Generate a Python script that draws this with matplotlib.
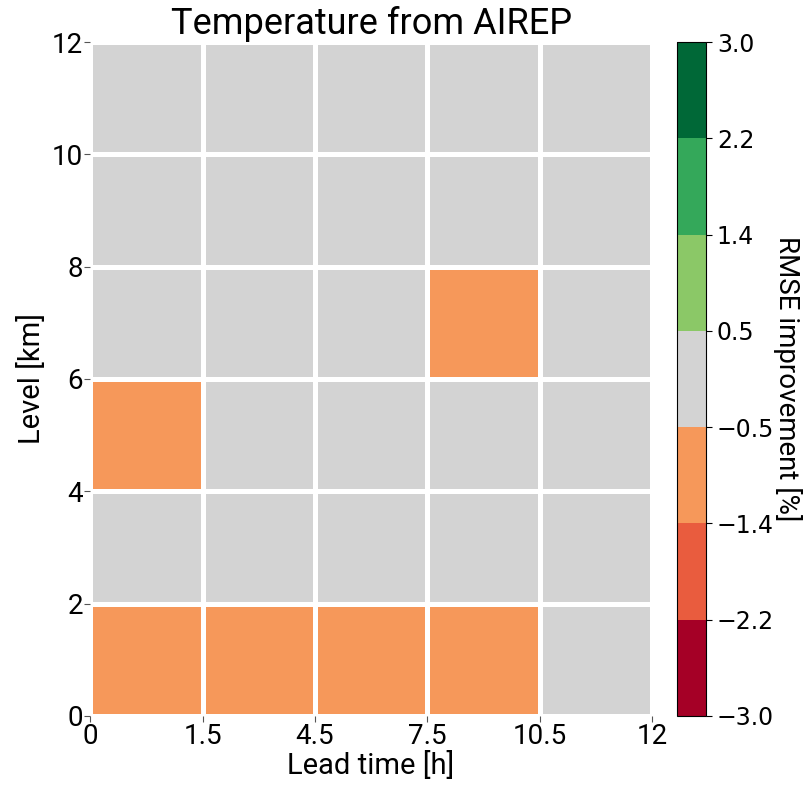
import matplotlib
matplotlib.use("Agg")
import matplotlib.pyplot as plt
import numpy as np
from matplotlib.colors import ListedColormap, BoundaryNorm

# lead time bins and level bins (labels at cell edges)
lead_labels = ["0", "1.5", "4.5", "7.5", "10.5", "12"]
level_labels = ["0", "2", "4", "6", "8", "10", "12"]

# RMSE improvement [%], rows = level bins (bottom to top), cols = lead time bins
rmse_impr = np.array([
    [-0.9, -0.8, -0.7, -0.6, -0.3],   # 0-2 km
    [-0.2, -0.1, 0.1, 0.0, 0.2],      # 2-4 km
    [-0.7, -0.3, -0.2, -0.1, 0.1],    # 4-6 km
    [0.1, -0.2, 0.0, -0.6, 0.2],      # 6-8 km
    [0.0, 0.1, -0.1, 0.2, 0.3],       # 8-10 km
    [0.2, 0.0, 0.1, -0.1, 0.1],       # 10-12 km
])

bounds = [-3.0, -2.2, -1.4, -0.5, 0.5, 1.4, 2.2, 3.0]
bound_labels = ["\u22123.0", "\u22122.2", "\u22121.4", "\u22120.5", "0.5", "1.4", "2.2", "3.0"]
colors = ["#a50026", "#e95c3e", "#f6985a", "#d3d3d3", "#8bc867", "#34a85a", "#006837"]

cmap = ListedColormap(colors)
norm = BoundaryNorm(bounds, cmap.N)

label_font = ["Roboto", "DejaVu Sans"]

fig = plt.figure(figsize=(8.12, 7.88), dpi=100)
ax = fig.add_axes([0.111, 0.0914, 0.692, 0.8553])
cax = fig.add_axes([0.834, 0.0914, 0.036, 0.8553])

nx = rmse_impr.shape[1]
ny = rmse_impr.shape[0]
mesh = ax.pcolormesh(np.arange(nx + 1), np.arange(ny + 1), rmse_impr,
                     cmap=cmap, norm=norm, edgecolors="white", linewidth=2.2)
ax.set_xlim(0, nx)
ax.set_ylim(0, ny)
for s in ax.spines.values():
    s.set_visible(False)

ax.set_xticks(np.arange(nx + 1))
ax.set_xticklabels(lead_labels, fontsize=20, family=label_font)
ax.set_yticks(np.arange(ny + 1))
ax.set_yticklabels(level_labels, fontsize=20, family=label_font)
ax.tick_params(length=4, width=0.8, colors="#555555", labelcolor="black", pad=1)
ax.set_xlabel("Lead time [h]", fontsize=21, family=label_font, labelpad=1)
ax.set_ylabel("Level [km]", fontsize=21, family=label_font, labelpad=4)
ax.set_title("Temperature from AIREP", fontsize=26, family=label_font, pad=3)

cb = fig.colorbar(mesh, cax=cax, boundaries=bounds, ticks=bounds, spacing="uniform")
cb.ax.set_yticklabels(bound_labels, fontsize=17)
cb.ax.tick_params(length=4, width=0.8)
cb.outline.set_linewidth(0.8)
cb.set_label("RMSE improvement [%]", fontsize=20, family=label_font,
             rotation=270, labelpad=20)

fig.savefig("out.png", dpi=100)
